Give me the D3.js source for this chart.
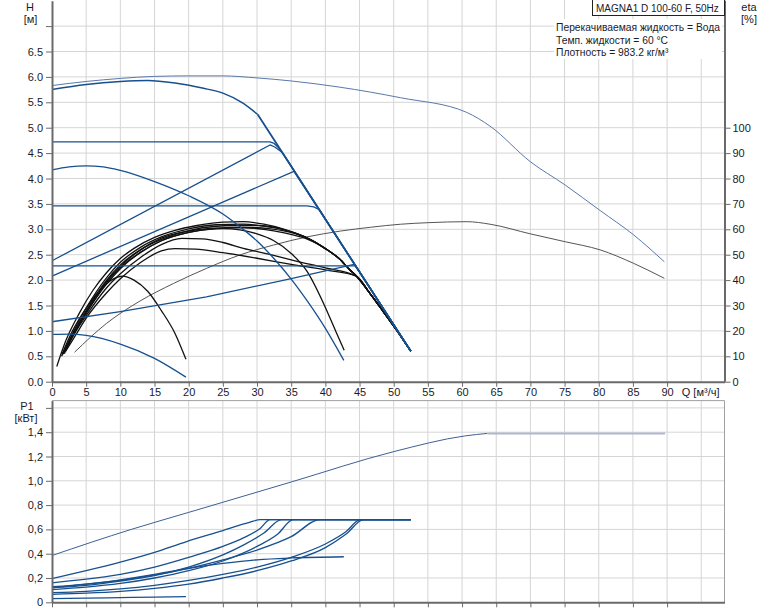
<!DOCTYPE html>
<html><head><meta charset="utf-8">
<script src="https://cdn.jsdelivr.net/npm/d3@7/dist/d3.min.js"></script>
<style>
body{margin:0;background:#fff}
svg{display:block}
text{font-family:"Liberation Sans",Arial,sans-serif;font-size:11px;fill:#1a1a2a}
</style>
</head><body><svg id="c" width="774" height="611"></svg>
<script>
// ---------- tick labels ----------
const qTicks = [0,5,10,15,20,25,30,35,40,45,50,55,60,65,70,75,80,85,90];
const qTickLabels = ["0","5","10","15","20","25","30","35","40","45","50","55","60","65","70","75","80","85","90"];
const hTicks = [0,0.5,1,1.5,2,2.5,3,3.5,4,4.5,5,5.5,6,6.5,7];
const hTickLabels = ["0.0","0.5","1.0","1.5","2.0","2.5","3.0","3.5","4.0","4.5","5.0","5.5","6.0","6.5",""];
const etaTicks = [0,10,20,30,40,50,60,70,80,90,100];
const etaTickLabels = ["0","10","20","30","40","50","60","70","80","90","100"];
const pTicks = [0,0.2,0.4,0.6,0.8,1.0,1.2,1.4,1.6];
const pTickLabels = ["0","0,2","0,4","0,6","0,8","1,0","1,2","1,4",""];

// ---------- head curves H [m] vs Q [m3/h] ----------
const steepLine = [[35,4.24],[40,3.2],[45,2.16],[52.5,0.6]];
const maxH = [[0,5.75],[5,5.85],[10,5.91],[14,5.93],[18,5.88],[22,5.78],[25,5.68],[28,5.48],[30.1,5.26]];
const cp3H = [[0,4.72],[31.9,4.72],[32.5,4.69],[33.2,4.6],[34.1,4.43]];
const pp3H = [[0,2.38],[31.9,4.66],[32.6,4.62],[33.7,4.51]];
const pp2H = [[0,2.08],[35.4,4.14]];
const cp2H = [[0,3.46],[37.3,3.46],[38.3,3.44],[39.2,3.38]];
const cp1H = [[0,2.28],[44.4,2.28]];
const pp1H = [[0,1.18],[10,1.38],[22.6,1.67],[35,2.03],[44.2,2.31]];
const constIIH = [[0,4.17],[2.5,4.23],[5,4.25],[7.5,4.23],[10,4.16],[15,3.94],[20,3.66],[25,3.3],[27.5,3.05],[30,2.77],[32.5,2.42],[35,2.02],[37.5,1.56],[40,1.05],[42.7,0.42]];
const constIH = [[0,0.93],[2.5,0.935],[5,0.91],[10,0.74],[15,0.46],[19.6,0.09]];
const parallelH = [[0,5.83],[5,5.91],[10,5.97],[15,6.01],[20,6.02],[25,6.02],[30,5.98],[35,5.92],[42,5.8],[51,5.59],[60.7,5.3],[64.1,5.03],[70,4.33],[75.1,3.87],[80.2,3.37],[85.1,2.89],[89.6,2.36]];

// ---------- efficiency curves eta [%] ----------
const effTail = [[37,57],[40,52.4],[42,48.5],[43.6,44],[44.6,41.4],[46.6,34.5],[48.5,27.5],[50.5,20],[52.5,12]];
const effMax = [[0.7,6],[2,16],[4,27],[6,36],[8,43],[10,48.5],[12,52.5],[15,56.8],[18,59.6],[21,61.4],[25,62.8],[28,63],[31,62],[34,60]];
const effCP3 = [[1.4,10],[3,19],[5,29],[8,41],[10,47],[13,53],[16,57],[20,60.2],[24,61.8],[28,62],[31,61.3],[34,59.8]];
const effPP3 = [[1.6,11],[3,18.5],[5,28],[8,40],[10,46],[13,52],[16,56],[20,59.5],[24,61.2],[28,61.6],[31,61.3],[33.7,60.1]];
const effPP2 = [[1.8,12],[3,18],[5,27],[8,39],[10,45],[13,51],[16,55.5],[20,58.8],[24,60.4],[28,60.8],[32,60.2],[35.6,58.3]];
const effCP2 = [[1.5,10.5],[3,18],[5,27.5],[8,39.5],[10,45.5],[13,52],[16,56.5],[20,59.3],[24,60.5],[28,60.6],[31,60],[34,58.6],[37,56.5],[39.2,53.7]];
const effConstII = [[1.6,11],[3,18],[5,27],[8,38.5],[10,44.5],[13,51],[16,55.5],[20,58.8],[23,60],[25,60.3],[27.5,59.8],[30,58.2],[32.4,55.6],[35,50.5],[37.3,43.5],[39.7,31],[41.5,20],[42.75,12.4]];
const effPP1 = [[1.8,11],[3,17.5],[5,26],[8,37],[10,42.5],[13,49],[16,54],[19,56.4],[22,56.2],[25,54.8],[28,52.5],[32,50],[36,47.3],[40,44.8],[44.5,41.6]];
const effCP1 = [[2,12],[3.5,18.5],[5,25],[8,35],[10,40.5],[13,47],[16,51.5],[18,52.4],[21,52.2],[25,50.8],[30,48.6],[35,46.2],[40,44],[44.5,41.6]];
const effConstI = [[1.5,11],[3,20],[5,29],[7,36],[9,40.5],[10.3,41.6],[12,40],[14,35.6],[16,28],[18,19],[19.6,8.8]];
const effParallel = [[3.3,11.6],[8,23],[12.9,31.8],[17.8,38.7],[22.6,44.6],[27.5,49.9],[32.4,53.8],[37.3,57],[42.2,59.3],[46.6,60.8],[51,62],[55,62.6],[60.7,63],[64.1,62],[70,58.2],[75.1,55.1],[80.2,51.9],[85.1,46.6],[89.6,40.7]];

// ---------- power curves P1 [kW] ----------
const p1Flat = [[52.5,0.68]];
const p1Max = [[0,0.195],[5,0.26],[10,0.33],[15,0.41],[19.7,0.5],[25,0.59],[29,0.66],[30.5,0.68]];
const p1CP3 = [[0,0.16],[5,0.19],[10,0.23],[15,0.29],[20,0.37],[25,0.46],[28,0.53],[30.5,0.61],[31.9,0.68]];
const p1PP3 = [[0,0.12],[5,0.14],[10,0.175],[15,0.22],[20,0.29],[25,0.39],[28,0.47],[31,0.57],[33.6,0.68]];
const p1PP2 = [[0,0.105],[5,0.125],[10,0.155],[15,0.2],[20,0.26],[25,0.34],[30,0.46],[33,0.56],[35.3,0.68]];
const p1CP2 = [[0,0.128],[5,0.15],[10,0.18],[15,0.225],[20,0.28],[25,0.35],[30,0.43],[35,0.54],[39.2,0.68]];
const p1ConstII = [[0,0.12],[5,0.15],[10,0.185],[15,0.23],[20,0.28],[25,0.32],[30,0.35],[35,0.365],[42.7,0.375]];
const p1CP1 = [[0,0.079],[5,0.09],[10,0.11],[15,0.14],[20,0.18],[25,0.23],[30,0.29],[35,0.37],[40,0.48],[43,0.58],[45.1,0.68]];
const p1PP1 = [[0,0.066],[5,0.075],[10,0.09],[15,0.115],[20,0.15],[25,0.2],[30,0.26],[35,0.34],[40,0.45],[43,0.56],[45.6,0.68]];
const p1ConstI = [[0,0.03],[5,0.034],[10,0.038],[15,0.043],[19.6,0.046]];
const p1Parallel = [[0,0.385],[11.6,0.6],[20,0.74],[35,0.99],[50,1.24],[60.5,1.37],[63.7,1.39]];
const p1ParallelFlat = [[63.7,1.39],[89.7,1.39]];

// ---------- texts ----------
const titleText = "MAGNA1 D 100-60 F, 50Hz";
const infoLines = ["Перекачиваемая жидкость = Вода","Темп. жидкости = 60 °C","Плотность = 983.2 кг/м³"];

// ---------- scales ----------
const x = d3.scaleLinear().domain([0,98.4]).range([52,724.5]);
const yH = d3.scaleLinear().domain([0,7.5]).range([381.7,0.7]);
const yEta = d3.scaleLinear().domain([0,150]).range([381.7,0.7]);
const yP = d3.scaleLinear().domain([0,1.66]).range([602.3,400.6]);

const svg = d3.select("#c");
const GRID = "#d5d5d5";
const BLUE = "#17508f";

// grids
const gridQ = d3.range(5,100,5);
svg.append("g").selectAll("line").data(gridQ).join("line")
  .attr("x1",d=>x(d)).attr("x2",d=>x(d)).attr("y1",0).attr("y2",yH(0)).attr("stroke",GRID);
svg.append("g").selectAll("line").data(hTicks.slice(1)).join("line")
  .attr("x1",x(0)).attr("x2",x(98.4)).attr("y1",d=>yH(d)).attr("y2",d=>yH(d)).attr("stroke",GRID);
svg.append("g").selectAll("line").data(gridQ).join("line")
  .attr("x1",d=>x(d)).attr("x2",d=>x(d)).attr("y1",yP(1.66)).attr("y2",yP(0)).attr("stroke",GRID);
svg.append("g").selectAll("line").data(pTicks.slice(1)).join("line")
  .attr("x1",x(0)).attr("x2",x(98.4)).attr("y1",d=>yP(d)).attr("y2",d=>yP(d)).attr("stroke",GRID);
// bottom chart frame top/right
svg.append("line").attr("x1",x(0)).attr("x2",x(98.4)).attr("y1",yP(1.66)).attr("y2",yP(1.66)).attr("stroke","#a0a0a0");
svg.append("line").attr("x1",x(98.4)).attr("x2",x(98.4)).attr("y1",yP(1.66)).attr("y2",yP(0)).attr("stroke","#a0a0a0");

// line generators
const lineH = d3.line().x(d=>x(d[0])).y(d=>yH(d[1])).curve(d3.curveMonotoneX);
const lineHlin = d3.line().x(d=>x(d[0])).y(d=>yH(d[1]));
const lineE = d3.line().x(d=>x(d[0])).y(d=>yEta(d[1])).curve(d3.curveMonotoneX);
const lineP = d3.line().x(d=>x(d[0])).y(d=>yP(d[1])).curve(d3.curveMonotoneX);

function path(gen, data, color, w){
  svg.append("path").attr("d",gen(data)).attr("fill","none").attr("stroke",color)
    .attr("stroke-width",w).attr("stroke-linejoin","round");
}

// top chart: thin parallel-operation curves
path(lineH, parallelH, "#5a78ab", 1);
path(lineE, effParallel, "#555", 1);

// efficiency curves
[effCP1.concat(effTail.slice(5)), effPP1.concat(effTail.slice(5)), effConstII, effConstI,
 effCP2.concat(effTail.slice(1)), effPP2.concat(effTail), effPP3.concat(effTail),
 effCP3.concat(effTail), effMax.concat(effTail)].forEach(d=>path(lineE, d, "#111", 1.3));

// head curves
path(lineH, constIH, BLUE, 1.3);
path(lineH, constIIH, BLUE, 1.3);
path(lineHlin, pp1H.concat(steepLine.slice(2)), BLUE, 1.3);
path(lineHlin, cp1H.concat(steepLine.slice(2)), BLUE, 1.3);
path(lineHlin, cp2H.concat(steepLine.slice(1)), BLUE, 1.3);
path(lineHlin, pp2H.concat(steepLine.slice(1)), BLUE, 1.3);
path(lineHlin, pp3H.concat(steepLine.slice(1)), BLUE, 1.3);
path(lineHlin, cp3H.concat(steepLine.slice(1)), BLUE, 1.3);
path(lineH, maxH, BLUE, 1.5);
path(lineHlin, [maxH[maxH.length-1]].concat(steepLine), BLUE, 1.8);

// bottom chart
path(lineP, p1Parallel, "#3e5f96", 1);
path(d3.line().x(d=>x(d[0])).y(d=>yP(d[1])), p1ParallelFlat, "#aeb7cb", 2);
[p1ConstI, p1ConstII].forEach(d=>path(lineP, d, BLUE, 1.3));
[p1PP1, p1CP1, p1CP2, p1PP2, p1PP3, p1CP3, p1Max].forEach(d=>path(lineP, d.concat(p1Flat), BLUE, 1.3));

// axes
function styleAxis(g, w){
  g.select(".domain").attr("stroke","#6a6a6a").attr("stroke-width",w);
  g.selectAll(".tick line").attr("stroke","#6a6a6a");
  g.selectAll(".tick text").attr("fill","#1a1a2a");
}
svg.append("g").attr("transform",`translate(${x(0)},0)`)
  .call(d3.axisLeft(yH).tickValues(hTicks).tickFormat((d,i)=>hTickLabels[i]).tickSize(6).tickSizeOuter(0).tickPadding(3))
  .call(g=>styleAxis(g,2));
svg.append("g").attr("transform",`translate(${x(98.4)},0)`)
  .call(d3.axisRight(yEta).tickValues(etaTicks).tickFormat((d,i)=>etaTickLabels[i]).tickSize(6).tickSizeOuter(0).tickPadding(2))
  .call(g=>g.select(".domain").attr("d",`M0.5,${yEta(0)}V0.7`))
  .call(g=>styleAxis(g,2));
svg.append("g").attr("transform",`translate(0,${yH(0)})`)
  .call(d3.axisBottom(x).tickValues(qTicks).tickFormat((d,i)=>qTickLabels[i]).tickSize(5).tickSizeOuter(0).tickPadding(2))
  .call(g=>styleAxis(g,2));
svg.append("g").attr("transform",`translate(${x(0)},0)`)
  .call(d3.axisLeft(yP).tickValues(pTicks).tickFormat((d,i)=>pTickLabels[i]).tickSize(6).tickSizeOuter(0).tickPadding(3))
  .call(g=>styleAxis(g,2));
svg.append("g").attr("transform",`translate(0,${yP(0)})`)
  .call(d3.axisBottom(x).tickValues(qTicks).tickFormat("").tickSize(5).tickSizeOuter(0))
  .call(g=>styleAxis(g,2));

// axis titles
svg.append("text").attr("x",30).attr("y",10.5).attr("text-anchor","middle").text("H");
svg.append("text").attr("x",30.5).attr("y",22.5).attr("text-anchor","middle").text("[м]");
svg.append("text").attr("x",749).attr("y",10.5).attr("text-anchor","middle").text("eta");
svg.append("text").attr("x",749).attr("y",22.5).attr("text-anchor","middle").text("[%]");
svg.append("text").attr("x",27).attr("y",410).attr("text-anchor","middle").text("P1");
svg.append("text").attr("x",26).attr("y",421.5).attr("text-anchor","middle").text("[кВт]");
svg.append("text").attr("x",x(98.4)-5).attr("y",396).attr("text-anchor","end").text("Q [м³/ч]");

// title box + info
svg.append("rect").attr("x",592.5).attr("y",-1).attr("width",132).attr("height",16.5)
  .attr("fill","#fff").attr("stroke","#222");
svg.append("text").attr("x",596).attr("y",11.5).style("font-size","10px").text(titleText);
const info = svg.append("g");
info.append("rect").attr("x",554).attr("y",19).attr("width",168).attr("height",40).attr("fill","#fff");
info.selectAll("text").data(infoLines).join("text").attr("x",556).attr("y",(d,i)=>31+i*12.5)
  .style("font-size","10.3px").text(d=>d);
</script></body></html>
